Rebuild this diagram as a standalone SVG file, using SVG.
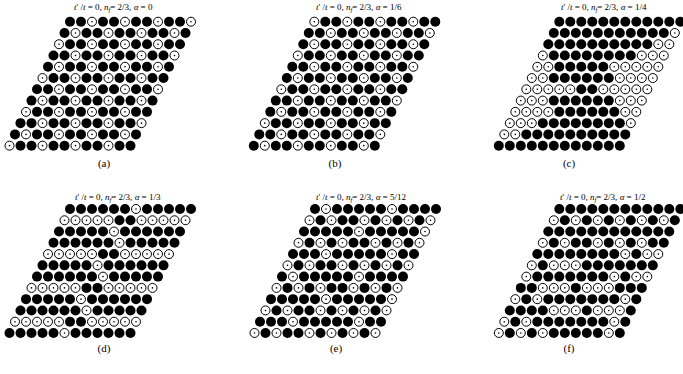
<svg xmlns="http://www.w3.org/2000/svg" xmlns:xlink="http://www.w3.org/1999/xlink" width="683" height="374" viewBox="0 0 683 374">
<style>
text{font-family:"Liberation Serif","DejaVu Serif",serif;fill:#000}
.t{font-size:9px}
.i{font-style:italic}
.cap{font-size:11px;text-anchor:middle}
</style>
<defs>
<circle id="b" r="5" fill="#000"/>
<g id="o"><circle r="4.5" fill="#fff" stroke="#000" stroke-width="1"/><circle r="0.8" fill="#000"/></g>
<g id="rF"><use href="#b"/><use href="#b" x="11"/><use href="#b" x="22"/><use href="#b" x="33"/><use href="#b" x="44"/><use href="#b" x="55"/><use href="#b" x="66"/><use href="#b" x="77"/><use href="#b" x="88"/><use href="#b" x="99"/><use href="#b" x="110"/><use href="#b" x="121"/></g>
<g id="rA"><use href="#b"/><use href="#b" x="11"/><use href="#o" x="22"/><use href="#b" x="33"/><use href="#b" x="44"/><use href="#o" x="55"/><use href="#b" x="66"/><use href="#b" x="77"/><use href="#o" x="88"/><use href="#b" x="99"/><use href="#b" x="110"/><use href="#o" x="121"/></g>
<g id="rB"><use href="#b"/><use href="#o" x="11"/><use href="#b" x="22"/><use href="#b" x="33"/><use href="#o" x="44"/><use href="#b" x="55"/><use href="#b" x="66"/><use href="#o" x="77"/><use href="#b" x="88"/><use href="#b" x="99"/><use href="#o" x="110"/><use href="#b" x="121"/></g>
<g id="rC"><use href="#o"/><use href="#b" x="11"/><use href="#b" x="22"/><use href="#o" x="33"/><use href="#b" x="44"/><use href="#b" x="55"/><use href="#o" x="66"/><use href="#b" x="77"/><use href="#b" x="88"/><use href="#o" x="99"/><use href="#b" x="110"/><use href="#b" x="121"/></g>
<g id="rD1"><use href="#b"/><use href="#b" x="11"/><use href="#b" x="22"/><use href="#b" x="33"/><use href="#b" x="44"/><use href="#b" x="55"/><use href="#o" x="66"/><use href="#b" x="77"/><use href="#b" x="88"/><use href="#b" x="99"/><use href="#b" x="110"/><use href="#b" x="121"/></g>
<g id="rD2"><use href="#o"/><use href="#o" x="11"/><use href="#o" x="22"/><use href="#o" x="33"/><use href="#o" x="44"/><use href="#b" x="55"/><use href="#b" x="66"/><use href="#o" x="77"/><use href="#o" x="88"/><use href="#o" x="99"/><use href="#o" x="110"/><use href="#o" x="121"/></g>
<g id="rD3"><use href="#b"/><use href="#b" x="11"/><use href="#b" x="22"/><use href="#b" x="33"/><use href="#b" x="44"/><use href="#o" x="55"/><use href="#b" x="66"/><use href="#b" x="77"/><use href="#b" x="88"/><use href="#b" x="99"/><use href="#b" x="110"/><use href="#b" x="121"/></g>
<g id="rE1"><use href="#b"/><use href="#o" x="11"/><use href="#b" x="22"/><use href="#b" x="33"/><use href="#b" x="44"/><use href="#b" x="55"/><use href="#b" x="66"/><use href="#o" x="77"/><use href="#b" x="88"/><use href="#b" x="99"/><use href="#b" x="110"/><use href="#b" x="121"/></g>
<g id="rE2"><use href="#o"/><use href="#b" x="11"/><use href="#o" x="22"/><use href="#b" x="33"/><use href="#b" x="44"/><use href="#o" x="55"/><use href="#b" x="66"/><use href="#o" x="77"/><use href="#b" x="88"/><use href="#o" x="99"/><use href="#b" x="110"/><use href="#o" x="121"/></g>
<g id="rE3"><use href="#b"/><use href="#b" x="11"/><use href="#b" x="22"/><use href="#b" x="33"/><use href="#b" x="44"/><use href="#o" x="55"/><use href="#b" x="66"/><use href="#b" x="77"/><use href="#b" x="88"/><use href="#b" x="99"/><use href="#b" x="110"/><use href="#o" x="121"/></g>
<g id="rE4"><use href="#o"/><use href="#b" x="11"/><use href="#o" x="22"/><use href="#b" x="33"/><use href="#o" x="44"/><use href="#b" x="55"/><use href="#b" x="66"/><use href="#o" x="77"/><use href="#b" x="88"/><use href="#o" x="99"/><use href="#b" x="110"/><use href="#o" x="121"/></g>
<g id="rE5"><use href="#b"/><use href="#b" x="11"/><use href="#b" x="22"/><use href="#o" x="33"/><use href="#b" x="44"/><use href="#b" x="55"/><use href="#b" x="66"/><use href="#b" x="77"/><use href="#b" x="88"/><use href="#o" x="99"/><use href="#b" x="110"/><use href="#b" x="121"/></g>
</defs>
<rect width="683" height="374" fill="#fff"/>

<g id="panel-a">
<text class="t" x="74" y="10"><tspan class="i">t</tspan>' /<tspan class="i">t</tspan> = 0, <tspan class="i">n</tspan><tspan class="i" font-size="6.5" dy="2">f</tspan><tspan dy="-2">= 2/3, </tspan><tspan class="i">α</tspan> = 0</text>
<g transform="translate(70 21.7)">
<use href="#rA"/><use href="#rB" x="-5.5" y="11.27"/><use href="#rC" x="-11" y="22.54"/><use href="#rA" x="-16.5" y="33.81"/><use href="#rB" x="-22" y="45.08"/><use href="#rC" x="-27.5" y="56.35"/><use href="#rA" x="-33" y="67.62"/><use href="#rB" x="-38.5" y="78.89"/><use href="#rC" x="-44" y="90.16"/><use href="#rA" x="-49.5" y="101.43"/><use href="#rB" x="-55" y="112.7"/><use href="#rC" x="-60.5" y="123.97"/>
</g>
<text class="cap" x="104" y="167">(a)</text>
</g>

<g id="panel-b">
<text class="t" x="316" y="10"><tspan class="i">t</tspan>' /<tspan class="i">t</tspan> = 0, <tspan class="i">n</tspan><tspan class="i" font-size="6.5" dy="2">f</tspan><tspan dy="-2">= 2/3, </tspan><tspan class="i">α</tspan> = 1/6</text>
<g transform="translate(314.3 21.7)">
<use href="#rC"/><use href="#rA" x="-5.5" y="11.27"/><use href="#rB" x="-11" y="22.54"/><use href="#rC" x="-16.5" y="33.81"/><use href="#rA" x="-22" y="45.08"/><use href="#rB" x="-27.5" y="56.35"/><use href="#rC" x="-33" y="67.62"/><use href="#rA" x="-38.5" y="78.89"/><use href="#rB" x="-44" y="90.16"/><use href="#rC" x="-49.5" y="101.43"/><use href="#rA" x="-55" y="112.7"/><use href="#rB" x="-60.5" y="123.97"/>
</g>
<text class="cap" x="335" y="167">(b)</text>
</g>

<g id="panel-c">
<text class="t" x="561" y="10"><tspan class="i">t</tspan>' /<tspan class="i">t</tspan> = 0, <tspan class="i">n</tspan><tspan class="i" font-size="6.5" dy="2">f</tspan><tspan dy="-2">= 2/3, </tspan><tspan class="i">α</tspan> = 1/4</text>
<g transform="translate(559.3 21.7)">
<use href="#rF"/>
<g transform="translate(-5.5 11.27)"><use href="#b"/><use href="#b" x="11"/><use href="#b" x="22"/><use href="#b" x="33"/><use href="#b" x="44"/><use href="#b" x="55"/><use href="#b" x="66"/><use href="#b" x="77"/><use href="#b" x="88"/><use href="#b" x="99"/><use href="#b" x="110"/><use href="#o" x="121"/></g>
<g transform="translate(-11 22.54)"><use href="#b"/><use href="#b" x="11"/><use href="#b" x="22"/><use href="#b" x="33"/><use href="#b" x="44"/><use href="#b" x="55"/><use href="#b" x="66"/><use href="#b" x="77"/><use href="#b" x="88"/><use href="#b" x="99"/><use href="#o" x="110"/><use href="#o" x="121"/></g>
<g transform="translate(-16.5 33.81)"><use href="#o"/><use href="#b" x="11"/><use href="#b" x="22"/><use href="#b" x="33"/><use href="#b" x="44"/><use href="#b" x="55"/><use href="#b" x="66"/><use href="#b" x="77"/><use href="#b" x="88"/><use href="#o" x="99"/><use href="#o" x="110"/><use href="#o" x="121"/></g>
<g transform="translate(-22 45.08)"><use href="#o"/><use href="#o" x="11"/><use href="#b" x="22"/><use href="#b" x="33"/><use href="#b" x="44"/><use href="#b" x="55"/><use href="#b" x="66"/><use href="#o" x="77"/><use href="#o" x="88"/><use href="#o" x="99"/><use href="#o" x="110"/><use href="#o" x="121"/></g>
<g transform="translate(-27.5 56.35)"><use href="#o"/><use href="#o" x="11"/><use href="#b" x="22"/><use href="#b" x="33"/><use href="#b" x="44"/><use href="#b" x="55"/><use href="#b" x="66"/><use href="#b" x="77"/><use href="#o" x="88"/><use href="#o" x="99"/><use href="#o" x="110"/><use href="#o" x="121"/></g>
<use href="#rD2" x="-33" y="67.62"/>
<g transform="translate(-38.5 78.89)"><use href="#o"/><use href="#o" x="11"/><use href="#o" x="22"/><use href="#b" x="33"/><use href="#b" x="44"/><use href="#b" x="55"/><use href="#b" x="66"/><use href="#b" x="77"/><use href="#b" x="88"/><use href="#o" x="99"/><use href="#o" x="110"/><use href="#o" x="121"/></g>
<g transform="translate(-44 90.16)"><use href="#o"/><use href="#o" x="11"/><use href="#o" x="22"/><use href="#o" x="33"/><use href="#b" x="44"/><use href="#b" x="55"/><use href="#b" x="66"/><use href="#b" x="77"/><use href="#b" x="88"/><use href="#b" x="99"/><use href="#o" x="110"/><use href="#o" x="121"/></g>
<g transform="translate(-49.5 101.43)"><use href="#o"/><use href="#o" x="11"/><use href="#o" x="22"/><use href="#b" x="33"/><use href="#b" x="44"/><use href="#b" x="55"/><use href="#b" x="66"/><use href="#b" x="77"/><use href="#b" x="88"/><use href="#b" x="99"/><use href="#b" x="110"/><use href="#o" x="121"/></g>
<g transform="translate(-55 112.7)"><use href="#o"/><use href="#o" x="11"/><use href="#b" x="22"/><use href="#b" x="33"/><use href="#b" x="44"/><use href="#b" x="55"/><use href="#b" x="66"/><use href="#b" x="77"/><use href="#b" x="88"/><use href="#b" x="99"/><use href="#b" x="110"/><use href="#b" x="121"/></g>
<use href="#rF" x="-60.5" y="123.97"/>
</g>
<text class="cap" x="569" y="167">(c)</text>
</g>

<g id="panel-d">
<text class="t" x="75" y="199.5"><tspan class="i">t</tspan>' /<tspan class="i">t</tspan> = 0, <tspan class="i">n</tspan><tspan class="i" font-size="6.5" dy="2">f</tspan><tspan dy="-2">= 2/3, </tspan><tspan class="i">α</tspan> = 1/3</text>
<g transform="translate(70 209)">
<use href="#rD1"/><use href="#rD2" x="-5.5" y="11.27"/><use href="#rD3" x="-11" y="22.54"/><use href="#rD1" x="-16.5" y="33.81"/><use href="#rD2" x="-22" y="45.08"/><use href="#rD3" x="-27.5" y="56.35"/><use href="#rD1" x="-33" y="67.62"/><use href="#rD2" x="-38.5" y="78.89"/><use href="#rD3" x="-44" y="90.16"/><use href="#rD1" x="-49.5" y="101.43"/><use href="#rD2" x="-55" y="112.7"/><use href="#rD3" x="-60.5" y="123.97"/>
</g>
<text class="cap" x="104" y="352">(d)</text>
</g>

<g id="panel-e">
<text class="t" x="316" y="199.5"><tspan class="i">t</tspan>' /<tspan class="i">t</tspan> = 0, <tspan class="i">n</tspan><tspan class="i" font-size="6.5" dy="2">f</tspan><tspan dy="-2">= 2/3, </tspan><tspan class="i">α</tspan> = 5/12</text>
<g transform="translate(315 209)">
<use href="#rE1"/><use href="#rE2" x="-5.5" y="11.27"/><use href="#rE3" x="-11" y="22.54"/><use href="#rE4" x="-16.5" y="33.81"/><use href="#rE5" x="-22" y="45.08"/><use href="#rE2" x="-27.5" y="56.35"/><use href="#rE1" x="-33" y="67.62"/><use href="#rE4" x="-38.5" y="78.89"/><use href="#rE3" x="-44" y="90.16"/><use href="#rE2" x="-49.5" y="101.43"/><use href="#rE5" x="-55" y="112.7"/><use href="#rE2" x="-60.5" y="123.97"/>
</g>
<text class="cap" x="336" y="352">(e)</text>
</g>

<g id="panel-f">
<text class="t" x="560" y="199.5"><tspan class="i">t</tspan>' /<tspan class="i">t</tspan> = 0, <tspan class="i">n</tspan><tspan class="i" font-size="6.5" dy="2">f</tspan><tspan dy="-2">= 2/3, </tspan><tspan class="i">α</tspan> = 1/2</text>
<g transform="translate(559.3 209)">
<use href="#rF"/>
<g transform="translate(-5.5 11.27)"><use href="#o"/><use href="#b" x="11"/><use href="#o" x="22"/><use href="#b" x="33"/><use href="#o" x="44"/><use href="#b" x="55"/><use href="#o" x="66"/><use href="#b" x="77"/><use href="#o" x="88"/><use href="#b" x="99"/><use href="#o" x="110"/><use href="#b" x="121"/></g>
<use href="#rF" x="-11" y="22.54"/>
<g transform="translate(-16.5 33.81)"><use href="#o"/><use href="#b" x="11"/><use href="#o" x="22"/><use href="#b" x="33"/><use href="#b" x="44"/><use href="#o" x="55"/><use href="#b" x="66"/><use href="#o" x="77"/><use href="#b" x="88"/><use href="#o" x="99"/><use href="#b" x="110"/><use href="#b" x="121"/></g>
<g transform="translate(-22 45.08)"><use href="#b"/><use href="#b" x="11"/><use href="#b" x="22"/><use href="#b" x="33"/><use href="#b" x="44"/><use href="#b" x="55"/><use href="#b" x="66"/><use href="#b" x="77"/><use href="#o" x="88"/><use href="#b" x="99"/><use href="#o" x="110"/><use href="#o" x="121"/></g>
<g transform="translate(-27.5 56.35)"><use href="#o"/><use href="#b" x="11"/><use href="#o" x="22"/><use href="#o" x="33"/><use href="#o" x="44"/><use href="#b" x="55"/><use href="#b" x="66"/><use href="#b" x="77"/><use href="#b" x="88"/><use href="#b" x="99"/><use href="#b" x="110"/><use href="#b" x="121"/></g>
<g transform="translate(-33 67.62)"><use href="#o"/><use href="#b" x="11"/><use href="#b" x="22"/><use href="#b" x="33"/><use href="#b" x="44"/><use href="#b" x="55"/><use href="#b" x="66"/><use href="#b" x="77"/><use href="#o" x="88"/><use href="#b" x="99"/><use href="#o" x="110"/><use href="#o" x="121"/></g>
<g transform="translate(-38.5 78.89)"><use href="#b"/><use href="#b" x="11"/><use href="#o" x="22"/><use href="#o" x="33"/><use href="#o" x="44"/><use href="#b" x="55"/><use href="#o" x="66"/><use href="#o" x="77"/><use href="#o" x="88"/><use href="#b" x="99"/><use href="#b" x="110"/><use href="#b" x="121"/></g>
<g transform="translate(-44 90.16)"><use href="#o"/><use href="#b" x="11"/><use href="#o" x="22"/><use href="#b" x="33"/><use href="#b" x="44"/><use href="#b" x="55"/><use href="#b" x="66"/><use href="#b" x="77"/><use href="#b" x="88"/><use href="#b" x="99"/><use href="#o" x="110"/><use href="#b" x="121"/></g>
<g transform="translate(-49.5 101.43)"><use href="#b"/><use href="#b" x="11"/><use href="#b" x="22"/><use href="#b" x="33"/><use href="#o" x="44"/><use href="#o" x="55"/><use href="#o" x="66"/><use href="#b" x="77"/><use href="#o" x="88"/><use href="#o" x="99"/><use href="#o" x="110"/><use href="#b" x="121"/></g>
<g transform="translate(-55 112.7)"><use href="#o"/><use href="#b" x="11"/><use href="#o" x="22"/><use href="#b" x="33"/><use href="#b" x="44"/><use href="#b" x="55"/><use href="#b" x="66"/><use href="#b" x="77"/><use href="#b" x="88"/><use href="#b" x="99"/><use href="#o" x="110"/><use href="#b" x="121"/></g>
<g transform="translate(-60.5 123.97)"><use href="#o"/><use href="#b" x="11"/><use href="#o" x="22"/><use href="#b" x="33"/><use href="#o" x="44"/><use href="#b" x="55"/><use href="#b" x="66"/><use href="#b" x="77"/><use href="#b" x="88"/><use href="#b" x="99"/><use href="#o" x="110"/><use href="#b" x="121"/></g>
</g>
<text class="cap" x="569" y="352">(f)</text>
</g>
</svg>
